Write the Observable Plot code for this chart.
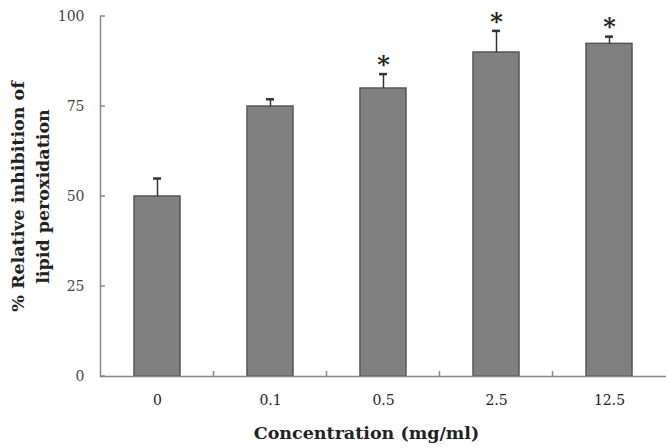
<!DOCTYPE html>
<html><head><meta charset="utf-8">
<script src="https://cdn.jsdelivr.net/npm/d3@7"></script>
<script src="https://cdn.jsdelivr.net/npm/@observablehq/plot@0.6"></script>
<style>body{margin:0;background:#fff}</style>
</head><body><div id="chart"></div>
<script>
const categories = ["0", "0.1", "0.5", "2.5", "12.5"];
const means = [50, 75, 80, 90, 92.4];
const errors = [5, 2, 4, 6, 2];
const significance = ["", "", "*", "*", "*"];
const yTicks = [0, 25, 50, 75, 100];
const xTitle = "Concentration (mg/ml)";
const yTitle = "% Relative inhibition of\nlipid peroxidation";

const data = categories.map((c, i) => ({c, v: means[i], top: means[i] + errors[i], s: significance[i]}));
const font = "DejaVu Serif";

const chart = Plot.plot({
  width: 666, height: 448,
  marginLeft: 100, marginRight: 0, marginTop: 16, marginBottom: 72,
  style: {fontFamily: font, fontSize: "14px", color: "#333", background: "#fff", overflow: "visible"},
  x: {domain: categories, paddingInner: 0.59, paddingOuter: 0.295, label: null},
  y: {domain: [0, 100], label: null},
  marks: [
    Plot.frame({anchor: "left", stroke: "#888", strokeWidth: 1.5}),
    Plot.barY(data, {x: "c", y: "v", fill: "#808080", stroke: "#555", strokeWidth: 1.5}),
    Plot.ruleX(data, {x: "c", y1: "v", y2: "top", stroke: "#333", strokeWidth: 1.5}),
    Plot.tickY(data, {x: "c", y: "top", stroke: "#333", strokeWidth: 2.5, insetLeft: 19, insetRight: 19}),
    Plot.text(data, {x: "c", y: "top", text: "s", dy: -9, fontSize: 24, fontWeight: "bold", fill: "#222"}),
    Plot.axisX({tickSize: 0, tickPadding: 19, fontSize: 14, fill: "#222"}),
    Plot.axisY({ticks: yTicks, tickSize: 0, tickPadding: 16, fontSize: 14, fill: "#444"}),
    Plot.ruleY([0], {stroke: "#888", strokeWidth: 1.5}),
    Plot.text([xTitle], {frameAnchor: "bottom", dx: -17, dy: 62, fontSize: 17.5, fontWeight: "bold", fill: "#222"}),
    Plot.text([yTitle], {frameAnchor: "left", textAnchor: "middle", dx: -72, rotate: -90, fontSize: 17.5, fontWeight: "bold", fill: "#222", lineHeight: 1.45})
  ]
});
document.getElementById("chart").append(chart);

// inward ticks, computed from the plot's own scales
const xs = chart.scale("x");
const ys = chart.scale("y");
const svg = d3.select(chart);
const y0 = ys.apply(0);
const xLeft = xs.range[0];
categories.slice(0, -1).forEach(c => {
  const xb = xs.apply(c) + xs.bandwidth + (xs.step - xs.bandwidth) / 2;
  svg.append("line").attr("x1", xb).attr("x2", xb).attr("y1", y0).attr("y2", y0 - 5)
    .attr("stroke", "#888").attr("stroke-width", 1.5);
});
yTicks.forEach(t => {
  const yt = ys.apply(t);
  svg.append("line").attr("x1", xLeft).attr("x2", xLeft + 5).attr("y1", yt).attr("y2", yt)
    .attr("stroke", "#888").attr("stroke-width", 1.5);
});
</script>
</body></html>
